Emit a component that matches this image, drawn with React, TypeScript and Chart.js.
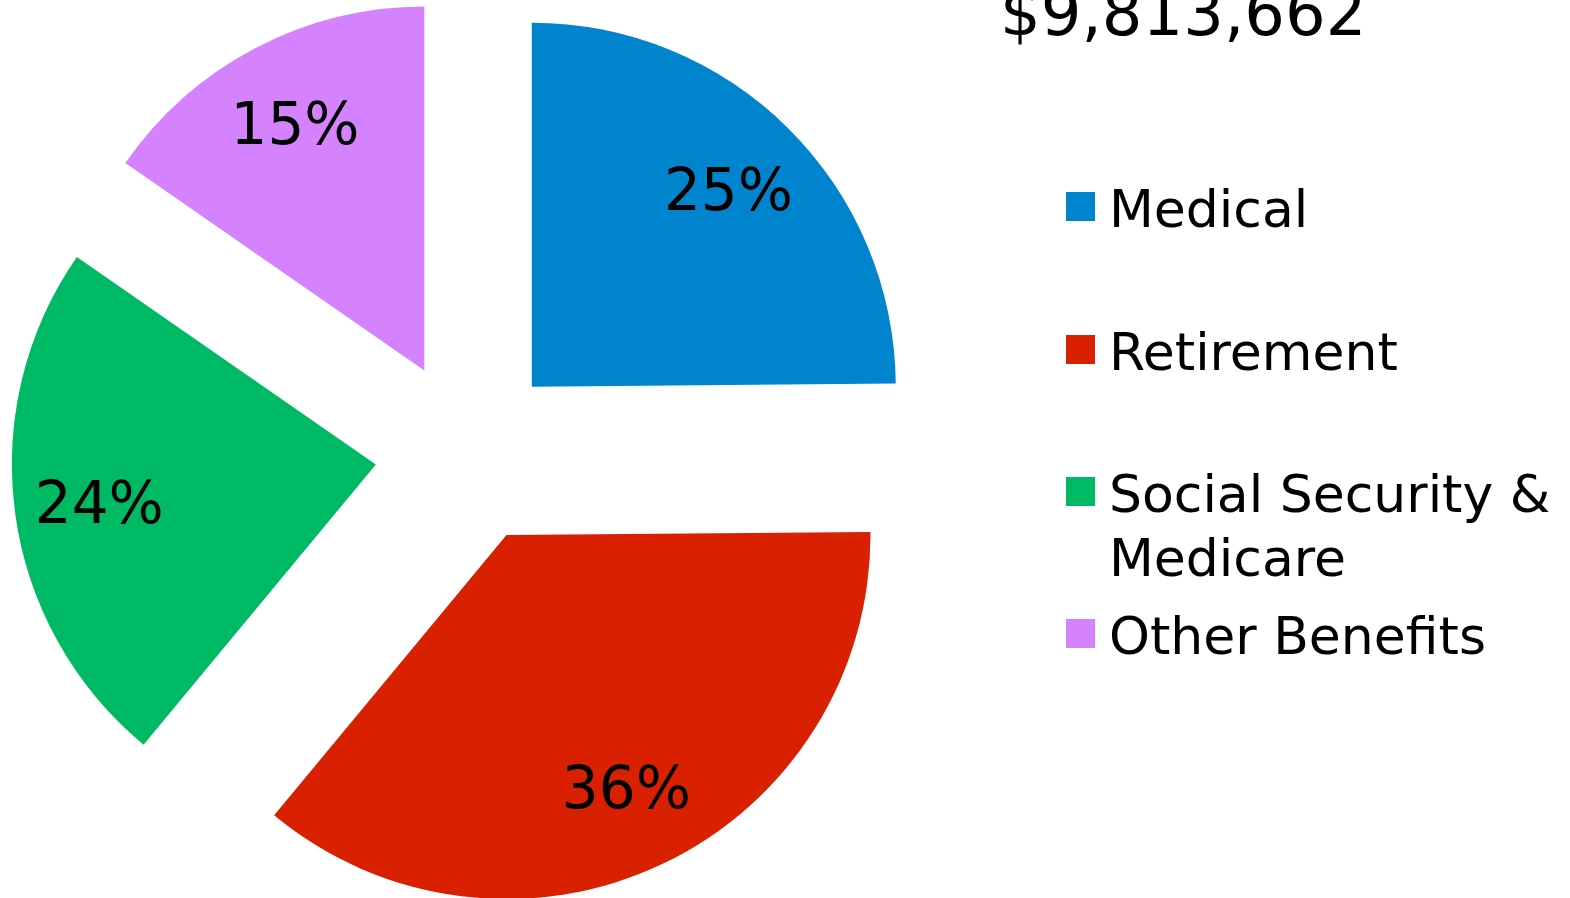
import React, { useEffect, useRef } from "react";
import { Chart, registerables } from "chart.js";

Chart.register(...registerables);

const categories = ["Medical", "Retirement", "Social Security & Medicare", "Other Benefits"];
const amounts = [2440000, 3548000, 2320000, 1505662];
const colors = ["#0084CE", "#D92000", "#00B964", "#D582FF"];

const FONT = '"DejaVu Sans", Verdana, sans-serif';
const EXPLODE = 92;
const RADIUS = 364;

const total = amounts.reduce((a, b) => a + b, 0);
const titleText = "$" + total.toLocaleString("en-US");

const explodePlugin = {
  id: "explode",
  afterDatasetUpdate(chart: any, args: any) {
    const meta = args.meta;
    meta.data.forEach((arc: any) => {
      const mid = (arc.startAngle + arc.endAngle) / 2;
      arc.x = arc.x + Math.cos(mid) * EXPLODE;
      arc.y = arc.y + Math.sin(mid) * EXPLODE;
    });
  },
};

const labelPlugin = {
  id: "pctLabels",
  afterDatasetsDraw(chart: any) {
    const ctx = chart.ctx;
    const meta = chart.getDatasetMeta(0);
    const data = chart.data.datasets[0].data as number[];
    const sum = data.reduce((a, b) => a + b, 0);
    const size = 58;
    ctx.save();
    ctx.font = `${size}px ${FONT}`;
    ctx.fillStyle = "#000000";
    ctx.textAlign = "center";
    ctx.textBaseline = "alphabetic";
    meta.data.forEach((arc: any, i: number) => {
      const mid = (arc.startAngle + arc.endAngle) / 2;
      const r = arc.outerRadius * 0.767;
      const x = arc.x + Math.cos(mid) * r;
      const y = arc.y + Math.sin(mid) * r;
      const pct = Math.round((data[i] / sum) * 100) + "%";
      ctx.fillText(pct, x, y + size * 0.364);
    });
    ctx.restore();
  },
};

export default function App() {
  const ref = useRef<HTMLCanvasElement | null>(null);

  useEffect(() => {
    document.body.style.margin = "0";
    if (!ref.current) return;
    const chart = new Chart(ref.current, {
      type: "pie",
      data: {
        labels: categories,
        datasets: [
          {
            data: amounts,
            backgroundColor: colors,
            borderWidth: 0,
            radius: RADIUS,
          } as any,
        ],
      },
      options: {
        animation: false,
        responsive: false,
        radius: RADIUS,
        layout: { padding: 0 },
        plugins: {
          legend: { display: false },
          title: { display: false },
          tooltip: { enabled: false },
        },
        events: [],
      } as any,
      plugins: [explodePlugin, labelPlugin],
    });
    return () => chart.destroy();
  }, []);

  const legendTops = [177, 320, 462, 604];

  return (
    <div
      style={{
        position: "relative",
        width: 1570,
        height: 898,
        overflow: "hidden",
        background: "#ffffff",
        fontFamily: FONT,
      }}
    >
      <canvas
        ref={ref}
        width={930}
        height={904}
        style={{ position: "absolute", left: 2, top: 0, width: 930, height: 904 }}
      />
      <div
        style={{
          position: "absolute",
          left: 1000,
          top: -19,
          fontSize: 64,
          lineHeight: "64px",
          color: "#000",
          whiteSpace: "nowrap",
        }}
      >
        {titleText}
      </div>
      {categories.map((c, i) => (
        <React.Fragment key={c}>
          <div
            style={{
              position: "absolute",
              left: 1066,
              top: legendTops[i] + 15,
              width: 29,
              height: 29,
              background: colors[i],
            }}
          />
          <div
            style={{
              position: "absolute",
              left: 1109,
              top: legendTops[i],
              width: 470,
              fontSize: 52,
              lineHeight: "64px",
              color: "#000",
            }}
          >
            {c}
          </div>
        </React.Fragment>
      ))}
    </div>
  );
}
